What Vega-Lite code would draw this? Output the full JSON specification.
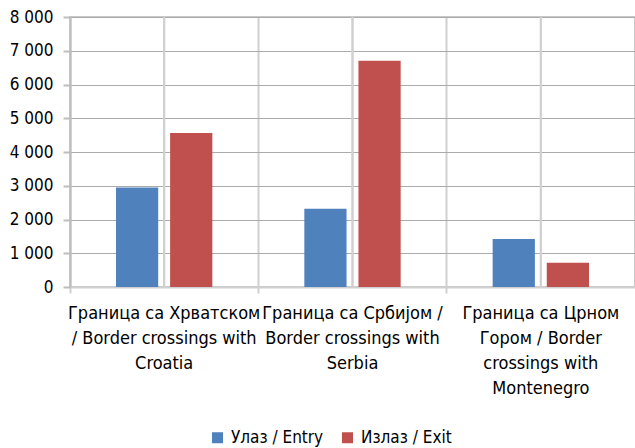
{
  "$schema": "https://vega.github.io/schema/vega-lite/v6.json",
  "width": 565,
  "height": 270,
  "autosize": {"type": "none"},
  "padding": {"left": 70, "top": 17, "right": 0, "bottom": 161},
  "background": "white",
  "config": {
    "font": "DejaVu Sans Condensed, Liberation Sans, sans-serif",
    "view": {"stroke": "#c8c8c8", "strokeWidth": 2}
  },
  "data": {
    "values": [
      {"category": "Граница са Хрватском / Border crossings with Croatia", "series": "Улаз / Entry", "value": 2951},
      {"category": "Граница са Хрватском / Border crossings with Croatia", "series": "Излаз / Exit", "value": 4563},
      {"category": "Граница са Србијом / Border crossings with Serbia", "series": "Улаз / Entry", "value": 2320},
      {"category": "Граница са Србијом / Border crossings with Serbia", "series": "Излаз / Exit", "value": 6705},
      {"category": "Граница са Црном Гором / Border crossings with Montenegro", "series": "Улаз / Entry", "value": 1422},
      {"category": "Граница са Црном Гором / Border crossings with Montenegro", "series": "Излаз / Exit", "value": 720}
    ]
  },
  "encoding": {
    "x": {
      "field": "category",
      "type": "nominal",
      "sort": null,
      "scale": {"paddingInner": 0, "paddingOuter": 0},
      "axis": {
        "title": null,
        "bandPosition": 0,
        "labelAngle": 0,
        "labelFontSize": 18,
        "labelColor": "#000000",
        "labelLineHeight": 25,
        "labelPadding": 11,
        "labelBaseline": "top",
        "labelAlign": "center",
        "labelLimit": 0,
        "domainColor": "#d0d0d0",
        "domainWidth": 2,
        "tickColor": "#d0d0d0",
        "tickWidth": 2,
        "tickSize": 6,
        "grid": true,
        "gridColor": "#d0d0d0",
        "gridWidth": 2,
        "labelExpr": "datum.value == 'Граница са Хрватском / Border crossings with Croatia' ? ['Граница са Хрватском', '/ Border crossings with', 'Croatia'] : datum.value == 'Граница са Србијом / Border crossings with Serbia' ? ['Граница са Србијом /', 'Border crossings with', 'Serbia'] : ['Граница са Црном', 'Гором / Border', 'crossings with', 'Montenegro']"
      }
    }
  },
  "layer": [
    {
      "mark": {"type": "rule", "color": "#d0d0d0", "strokeWidth": 2},
      "encoding": {}
    },
    {
      "mark": {"type": "bar"},
      "encoding": {
        "xOffset": {
          "field": "series",
          "type": "nominal",
          "sort": ["Улаз / Entry", "Излаз / Exit"],
          "scale": {"paddingInner": 0.22, "paddingOuter": 0.85}
        },
        "y": {
          "field": "value",
          "type": "quantitative",
          "scale": {"domain": [0, 8000], "nice": false},
          "axis": {
            "title": null,
            "values": [0, 1000, 2000, 3000, 4000, 5000, 6000, 7000, 8000],
            "labelExpr": "replace(format(datum.value, ','), ',', ' ')",
            "labelFontSize": 17,
            "labelColor": "#000000",
            "labelPadding": 10,
            "domainColor": "#bdbdbd",
            "domainWidth": 2,
            "tickColor": "#bdbdbd",
            "tickWidth": 2,
            "tickSize": 7,
            "grid": true,
            "gridColor": "#ababab",
            "gridWidth": 1
          }
        },
        "color": {
          "field": "series",
          "type": "nominal",
          "sort": ["Улаз / Entry", "Излаз / Exit"],
          "scale": {"range": ["#4F81BD", "#C0504D"]},
          "legend": {
            "title": null,
            "orient": "none",
            "direction": "horizontal",
            "legendX": 139,
            "legendY": 412,
            "symbolType": "square",
            "symbolSize": 121,
            "symbolStrokeWidth": 0,
            "symbolOpacity": 1,
            "labelFontSize": 17,
            "labelColor": "#000000",
            "labelOffset": 5,
            "columnPadding": 15,
            "labelLimit": 0
          }
        }
      }
    }
  ]
}
